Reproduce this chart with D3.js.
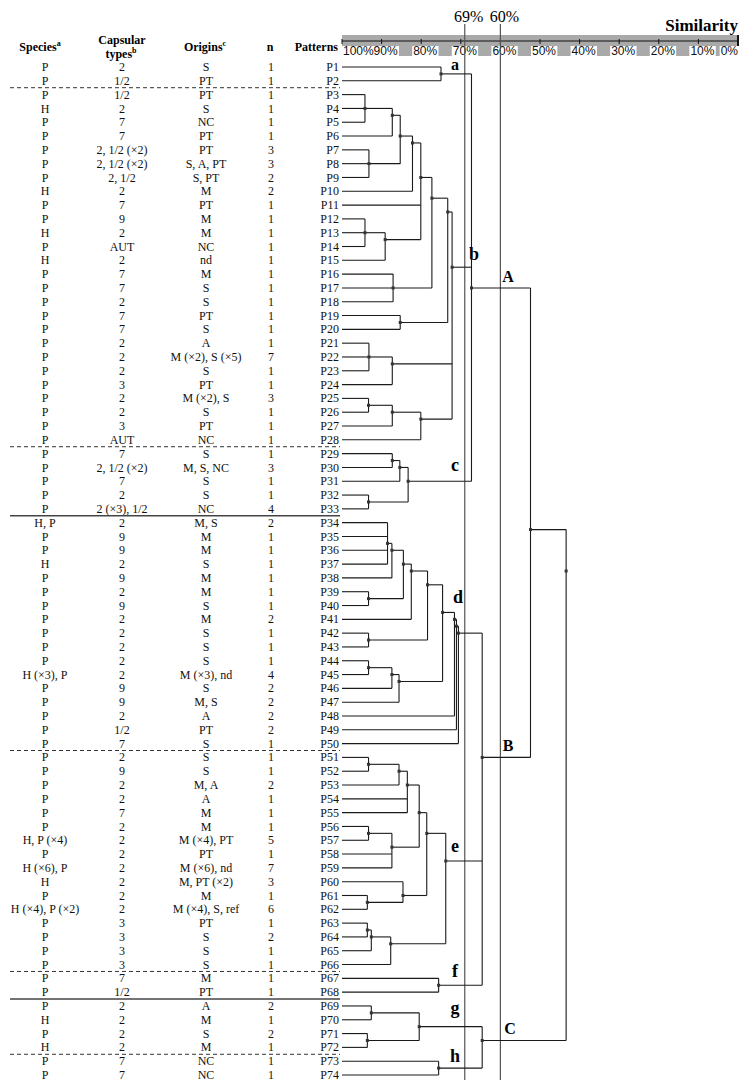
<!DOCTYPE html>
<html><head><meta charset="utf-8">
<script src="https://cdnjs.cloudflare.com/ajax/libs/d3/7.8.5/d3.min.js"></script>
<style>body{margin:0;background:#fff}svg{display:block}</style>
</head><body>
<svg id="chart" width="748" height="1085"></svg>
<script>
// ---------------- DATA ----------------
const patterns = ["P1","P2","P3","P4","P5","P6","P7","P8","P9","P10","P11","P12","P13","P14","P15","P16","P17","P18","P19","P20",
"P21","P22","P23","P24","P25","P26","P27","P28","P29","P30","P31","P32","P33","P34","P35","P36","P37","P38","P39","P40",
"P41","P42","P43","P44","P45","P46","P47","P48","P49","P50","P51","P52","P53","P54","P55","P56","P57","P58","P59","P60",
"P61","P62","P63","P64","P65","P66","P67","P68","P69","P70","P71","P72","P73","P74"];
const species = ["P","P","P","H","P","P","P","P","P","H","P","P","H","P","H","P","P","P","P","P",
"P","P","P","P","P","P","P","P","P","P","P","P","P","H, P","P","P","H","P","P","P",
"P","P","P","P","H (×3), P","P","P","P","P","P","P","P","P","P","P","P","H, P (×4)","P","H (×6), P","H",
"P","H (×4), P (×2)","P","P","P","P","P","P","P","H","P","H","P","P"];
const capsularTypes = ["2","1/2","1/2","2","7","7","2, 1/2 (×2)","2, 1/2 (×2)","2, 1/2","2","7","9","2","AUT","2","7","7","2","7","7",
"2","2","2","3","2","2","3","AUT","7","2, 1/2 (×2)","7","2","2 (×3), 1/2","2","9","9","2","9","2","9",
"2","2","2","2","2","9","9","2","1/2","7","2","9","2","2","7","2","2","2","2","2",
"2","2","3","3","3","3","7","1/2","2","2","2","2","7","7"];
const origins = ["S","PT","PT","S","NC","PT","PT","S, A, PT","S, PT","M","PT","M","M","NC","nd","M","S","S","PT","S",
"A","M (×2), S (×5)","S","PT","M (×2), S","S","PT","NC","S","M, S, NC","S","S","NC","M, S","M","M","S","M","M","S",
"M","S","S","S","M (×3), nd","S","M, S","A","PT","S","S","S","M, A","A","M","M","M (×4), PT","PT","M (×6), nd","M, PT (×2)",
"M","M (×4), S, ref","PT","S","S","S","M","PT","A","M","S","M","NC","NC"];
const counts = [1,1,1,1,1,1,3,3,2,2,1,1,1,1,1,1,1,1,1,1,
1,7,1,1,3,1,1,1,1,3,1,1,4,2,1,1,1,1,1,1,
2,1,1,1,4,2,2,2,2,1,1,1,2,1,1,1,5,1,7,3,
1,6,1,2,1,1,1,1,2,1,2,1,1,1];
// group separators (after pattern number) and their style
const rowBreaks = [2,28,33,50,66,68,72];
const rowBreakStyles = ["dashed","dashed","solid","dashed","dashed","solid","dashed"];
const similarityTicks = [100,90,80,70,60,50,40,30,20,10,0];
const cutoffs = [69,60];

// dendrogram: [similarity %, child, child, ...]; strings are patterns
const clA_a = [75.0,"P1","P2"];
const clA_b = [72.2,
  [73.3,
    [77.3,
      [80.1,
        [82.2,[85.3,[87.3,[94.2,"P3","P4","P5"],"P6"],[93.2,"P7","P8","P9"]],"P10"],
        "P11",
        [89.1,[94.2,"P12","P13","P14"],"P15"]],
      [87.1,"P16","P17","P18"]],
    [85.3,"P19","P20"]],
  [87.3,[93.2,"P21","P22","P23"],"P24"],
  [80.1,[87.3,[93.3,"P25","P26"],"P27"],"P28"]];
const clA_c = [83.3,[85.4,[87.3,"P29","P30"],"P31"],[93.3,"P32","P33"]];
const clA = [67.3, clA_a, clA_b, clA_c];
const clB_d = [70.6,[71.1,[71.6,
  [74.6,
    [78.4,[82.5,[84.5,[87.4,[88.5,"P34","P35","P36","P37"],"P38"],[93.3,"P39","P40"]],"P41"],[93.3,"P42","P43"]],
    [85.6,[87.4,[93.3,"P44","P45"],"P46"],"P47"]],
  "P48"],"P49"],"P50"];
const clB_e = [73.8,
  [78.6,
    [80.5,[83.5,[85.6,[93.3,"P51","P52"],"P53"],"P54","P55"],[87.4,[93.3,"P56","P57"],"P58","P59"]],
    [84.6,"P60",[93.6,"P61","P62"]]],
  [87.7,[92.6,[93.6,"P63","P64"],"P65"],"P66"]];
const clB_f = [75.6,"P67","P68"];
const clB = [64.6, clB_d, clB_e, clB_f];
const clC_g = [80.5,[92.6,"P69","P70"],[93.6,"P71","P72"]];
const clC_h = [75.6,"P73","P74"];
const clC = [64.6, clC_g, clC_h];
const tree = [43.4,[52.4, clA, clB], clC];
const clusterLabels = [["a",clA_a],["b",clA_b],["c",clA_c],["d",clB_d],["e",clB_e],["f",clB_f],["g",clC_g],["h",clC_h],
  ["A",clA],["B",clB],["C",clC]];

// ---------------- DRAW ----------------
const svg = d3.select("#chart");
const serif = "'Liberation Serif','Times New Roman',serif";
const sans = "'Liberation Sans',Arial,sans-serif";

const x = d3.scaleLinear().domain([100,0]).range([342,738]);
const y = d3.scalePoint().domain(patterns).range([67,1075]);

// header
const hdr = svg.append("g").attr("font-family",serif).attr("font-weight","bold").attr("font-size",12).attr("text-anchor","middle");
function hText(tx, ty, main, sup){
  const t = hdr.append("text").attr("x",tx).attr("y",ty).text(main);
  if(sup) t.append("tspan").attr("font-size",8).attr("dy",-5).text(sup);
}
hText(40,51,"Species","a");
hText(122,44,"Capsular");
hText(121,58,"types","b");
hText(205,51,"Origins","c");
hText(270,51,"n");
hdr.append("text").attr("x",338).attr("y",51).attr("text-anchor","end").text("Patterns");

// table
const colX = {sp:45, cap:122, ori:206, n:271, pat:339};
const tbl = svg.append("g").attr("font-family",serif).attr("font-size",12).attr("fill","#111");
patterns.forEach((p,i)=>{
  const yy = y(p);
  tbl.append("text").attr("x",colX.sp).attr("y",yy).attr("dy","0.34em").attr("text-anchor","middle").text(species[i]);
  tbl.append("text").attr("x",colX.cap).attr("y",yy).attr("dy","0.34em").attr("text-anchor","middle").text(capsularTypes[i]);
  tbl.append("text").attr("x",colX.ori).attr("y",yy).attr("dy","0.34em").attr("text-anchor","middle").text(origins[i]);
  tbl.append("text").attr("x",colX.n).attr("y",yy).attr("dy","0.34em").attr("text-anchor","middle").text(counts[i]);
  tbl.append("text").attr("x",colX.pat).attr("y",yy).attr("dy","0.34em").attr("text-anchor","end").text(p);
});
rowBreaks.forEach((b,i)=>{
  const yy = (y(patterns[b-1]) + y(patterns[b]))/2;
  const solid = rowBreakStyles[i]==="solid";
  svg.append("line").attr("x1",10).attr("x2",340).attr("y1",yy).attr("y2",yy)
    .attr("stroke", solid ? "#444" : "#333").attr("stroke-width", solid ? 1.5 : 1)
    .attr("stroke-dasharray", solid ? null : "4,3");
});

// similarity scale bar
const bar = svg.append("g");
bar.append("rect").attr("x",x(100)).attr("y",35).attr("width",x(0)-x(100)).attr("height",21).attr("fill","#a9a9a9");
bar.append("line").attr("x1",x(100)).attr("x2",x(0)).attr("y1",41).attr("y2",41).attr("stroke","#111").attr("stroke-width",1.2);
const tickG = bar.append("g").attr("font-family",sans).attr("font-size",12).attr("fill","#111");
similarityTicks.forEach((v,i)=>{
  bar.append("line").attr("x1",x(v)).attr("x2",x(v)).attr("y1",v===0?35:39).attr("y2",v===0?46:44)
    .attr("stroke","#111").attr("stroke-width",v===0?2:1);
  let anchor = "middle", tx = x(v)+4;
  if(i===0){anchor="start"; tx = x(v)+1;}
  if(i===similarityTicks.length-1){anchor="end"; tx = x(v);}
  const t = tickG.append("text").attr("x",tx).attr("y",55).attr("text-anchor",anchor).text(v+"%");
  const bb = t.node().getBBox();
  tickG.insert("rect","text").attr("x",bb.x-1).attr("y",46).attr("width",bb.width+2).attr("height",11).attr("fill","#fff");
});
svg.append("text").attr("x",738).attr("y",31).attr("text-anchor","end").attr("font-family",serif)
  .attr("font-weight","bold").attr("font-size",17).text("Similarity");

// cutoff lines
cutoffs.forEach(c=>{
  svg.append("line").attr("x1",x(c)).attr("x2",x(c)).attr("y1",24).attr("y2",1080).attr("stroke","#555").attr("stroke-width",1.2);
  svg.append("text").attr("x",x(c)+4).attr("y",22).attr("text-anchor","middle").attr("font-family",serif)
    .attr("font-size",16).text(c+"%");
});

// dendrogram
function build(a){
  if(typeof a==="string") return {name:a};
  return {sim:a[0], src:a, children:a.slice(1).map(build)};
}
const root = d3.hierarchy(build(tree));
root.eachAfter(n=>{
  if(!n.children){ n.px = x(100); n.py = y(n.data.name); }
  else { n.px = x(n.data.sim); n.py = d3.mean(n.leaves(), l=>y(l.data.name)); }
});
const dg = svg.append("g").attr("stroke","#1a1a1a").attr("stroke-width",1.1).attr("fill","none");
root.each(n=>{
  if(!n.children) return;
  const ys = n.children.map(c=>c.py);
  dg.append("line").attr("x1",n.px).attr("x2",n.px).attr("y1",d3.min(ys)).attr("y2",d3.max(ys));
  n.children.forEach(c=>{
    dg.append("line").attr("x1",c.px).attr("x2",n.px).attr("y1",c.py).attr("y2",c.py);
  });
});
root.each(n=>{
  if(!n.children) return;
  svg.append("rect").attr("x",n.px-1.5).attr("y",n.py-1.5).attr("width",3).attr("height",3).attr("fill","#333");
});

// cluster labels
const labelAdjust = {a:[455,-4], b:[474,-7], c:[455,-10], d:[458,-30], e:[455,-9], f:[455,-8], g:[455,-13], h:[455,-6],
  A:[508,-6], B:[508,-6], C:[510,-6]};
const lg = svg.append("g").attr("font-family",serif).attr("font-weight","bold").attr("text-anchor","middle");
clusterLabels.forEach(([lab,src])=>{
  const node = root.descendants().find(n=>n.data.src===src);
  const [lx,dy] = labelAdjust[lab];
  const isCap = lab===lab.toUpperCase();
  lg.append("text").attr("x",lx).attr("y",node.py+dy).attr("font-size",isCap?16:(lab==="a"?16:18)).text(lab);
});
</script>
</body></html>
